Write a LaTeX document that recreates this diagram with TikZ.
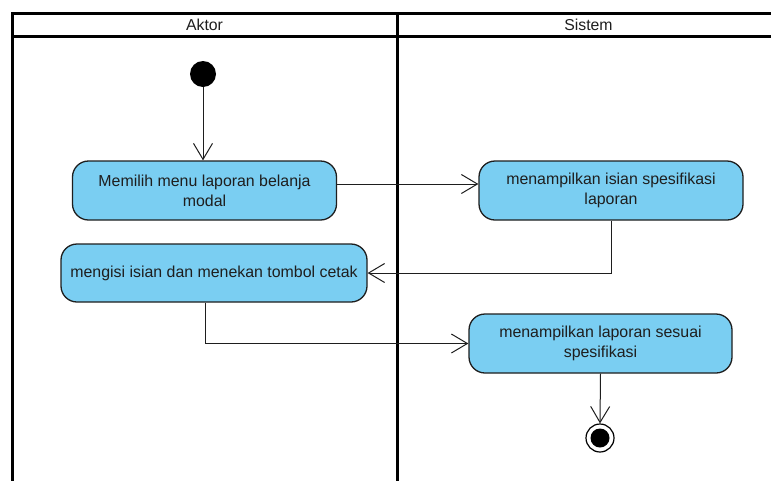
\documentclass[tikz,border=0pt]{standalone}
\usepackage{fontspec}
\setmainfont{Liberation Sans}
\usetikzlibrary{arrows.meta}
\definecolor{actfill}{RGB}{122,206,242}
\definecolor{ink}{RGB}{30,30,30}
\tikzset{
  lane/.style={line width=3pt, draw=black},
  action/.style={draw=ink, line width=1.3pt, fill=actfill, rounded corners=16pt,
    align=center, inner sep=0pt, text=ink, font=\fontsize{15.9}{20}\selectfont},
  flow/.style={draw=ink, line width=1pt, -{Straight Barb[length=16pt,width=19pt,line width=1pt]}},
  lanelabel/.style={text=ink, font=\fontsize{15.8}{18}\selectfont, inner sep=0pt},
}
\begin{document}
\begin{tikzpicture}[x=1pt, y=-1pt]
  \useasboundingbox (0,0) rectangle (771,480);
  \fill[white] (0,0) rectangle (771,480);
  \begin{scope}
    \clip (0,0) rectangle (771,480);
    % swimlane frame
    \draw[lane] (12,500) -- (12,13) -- (790,13) -- (790,500);
    \draw[lane] (12,36) -- (790,36);
    \draw[lane] (397,13) -- (397,500);
  \end{scope}
  \node[lanelabel] (laneA) at (204.5,24.5) {Aktor};
  \node[lanelabel] (laneS) at (588.5,24.5) {Sistem};

  % start and end states
  \node[circle, fill=black, inner sep=0pt, minimum size=26pt] (start) at (203,74) {};
  \node[circle, draw=black, line width=1.2pt, fill=white, inner sep=0pt, minimum size=28pt] (final) at (600,438) {};
  \fill[black] (final.center) circle (9.5pt);

  % actions
  \node[action, minimum width=264pt, minimum height=59pt] (b1) at (204.5,190.5)
    {Memilih menu laporan belanja\\modal};
  \node[action, minimum width=264pt, minimum height=59pt] (b2) at (611,190.5)
    {menampilkan isian spesifikasi\\laporan};
  \node[action, minimum width=306pt, minimum height=58pt] (b3) at (214,273)
    {mengisi isian dan menekan tombol cetak};
  \node[action, minimum width=263pt, minimum height=59pt] (b4) at (600.5,343.5)
    {menampilkan laporan sesuai\\spesifikasi};

  % control flows
  \draw[flow] (start.south) -- (start.south |- b1.north);
  \draw[flow] ([yshift=6.5pt]b1.east) -- ([yshift=6.5pt]b2.west);
  \draw[flow] (b2.south) |- (b3.east);
  \draw[flow] ([xshift=-9pt]b3.south) |- (b4.west);
  \draw[flow] (b4.south) -- (final.north);
\end{tikzpicture}
\end{document}
